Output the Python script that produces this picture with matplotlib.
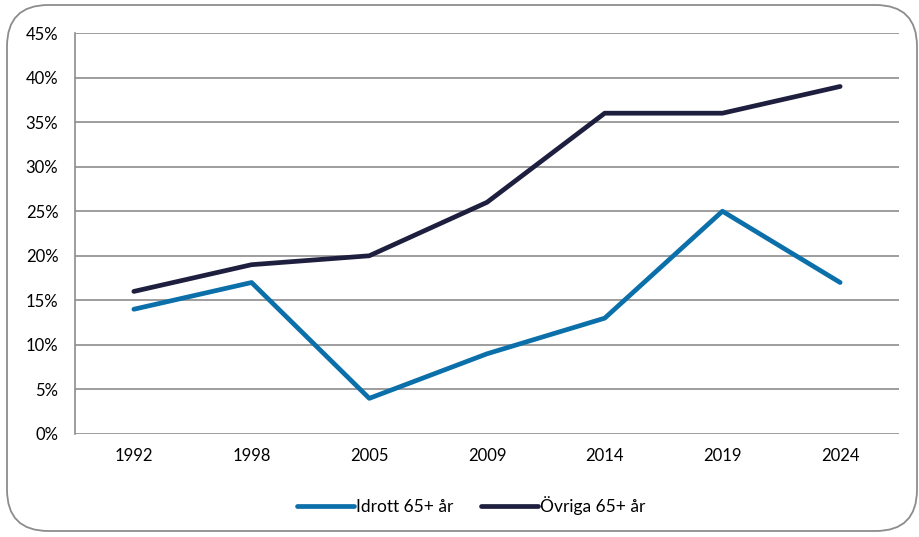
import matplotlib
matplotlib.use("Agg")
import matplotlib.pyplot as plt
from matplotlib.patches import FancyBboxPatch
from matplotlib.ticker import FuncFormatter

years = ["1992", "1998", "2005", "2009", "2014", "2019", "2024"]
idrott = [14, 17, 4, 9, 13, 25, 17]
ovriga = [16, 19, 20, 26, 36, 36, 39]
yticks = [0, 5, 10, 15, 20, 25, 30, 35, 40, 45]

plt.rcParams['font.family'] = ['Lato', 'DejaVu Sans']

W, H = 920, 537
fig = plt.figure(figsize=(W / 100, H / 100), dpi=100)

# rounded frame around the whole chart, kept behind the axes
frame = FancyBboxPatch((7 / W, 6 / H), (917 - 7) / W, (532 - 6) / H,
                       boxstyle="round,pad=0,rounding_size=0.045",
                       transform=fig.transFigure, facecolor="white",
                       edgecolor="#8c8c8c", linewidth=1.3, mutation_aspect=W / H,
                       zorder=-10)
fig.patches.append(frame)

ax = fig.add_axes([75 / W, (H - 434) / H, (899 - 75) / W, (434 - 33) / H])
ax.set_zorder(5)
ax.set_facecolor("none")
x = list(range(len(years)))
ax.plot(x, idrott, color="#0B6FAA", lw=3.4, label="Idrott 65+ år", solid_capstyle="round")
ax.plot(x, ovriga, color="#1E1F3F", lw=3.4, label="Övriga 65+ år", solid_capstyle="round")

ax.set_xlim(-0.5, len(years) - 0.5)
ax.set_ylim(0, 45)
ax.set_xticks(x)
ax.set_xticklabels(years)
ax.set_yticks(yticks)
ax.yaxis.set_major_formatter(FuncFormatter(lambda v, p: f"{v:.0f}%"))
ax.grid(axis="y", color="#8c8c8c", lw=1.2)
ax.set_axisbelow(True)
for s in ["top", "right", "bottom"]:
    ax.spines[s].set_visible(False)
ax.spines["left"].set_color("#8c8c8c")
ax.spines["left"].set_linewidth(1.2)
ax.tick_params(length=0, labelsize=12, colors="#000000")
ax.tick_params(axis="y", pad=12)
ax.tick_params(axis="x", pad=10)

ax.legend(loc="center", bbox_to_anchor=(0.512, (H - 506) / H), bbox_transform=fig.transFigure,
          ncol=2, frameon=False, fontsize=12.5, handlelength=3.3, handletextpad=0.1,
          columnspacing=1.6)

fig.savefig("out.png", dpi=100)
